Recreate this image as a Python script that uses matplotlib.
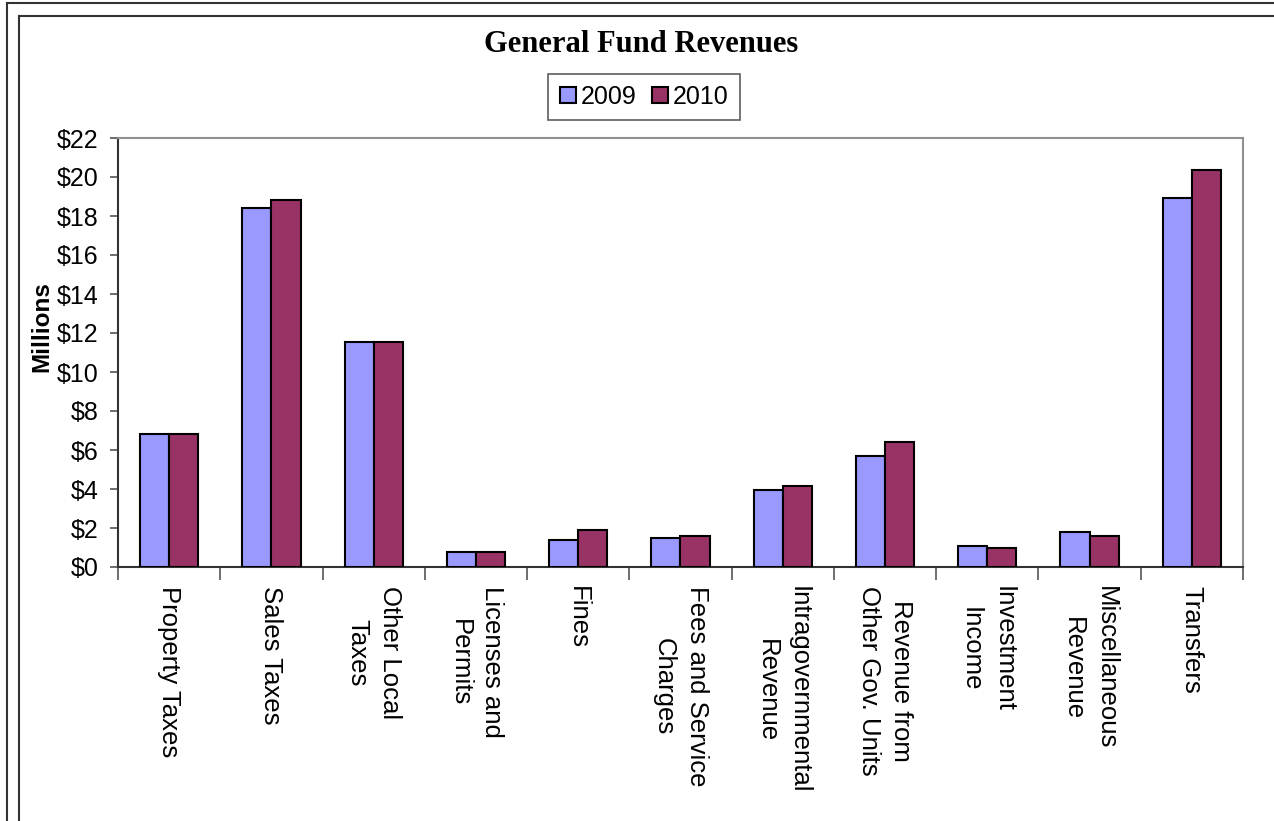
import numpy as np
import matplotlib
matplotlib.use('Agg')
import matplotlib.pyplot as plt
from matplotlib.lines import Line2D
from matplotlib.ticker import FuncFormatter

# chart data (millions of dollars)
categories = ['Property Taxes', 'Sales Taxes', 'Other Local\nTaxes', 'Licenses and\nPermits', 'Fines',
              'Fees and Service\nCharges', 'Intragovernmental\nRevenue', 'Revenue from\nOther Gov. Units',
              'Investment\nIncome', 'Miscellaneous\nRevenue', 'Transfers']
rev_2009 = [6.82, 18.41, 11.55, 0.78, 1.40, 1.50, 3.96, 5.71, 1.09, 1.81, 18.92]
rev_2010 = [6.82, 18.82, 11.55, 0.78, 1.91, 1.61, 4.17, 6.43, 0.99, 1.61, 20.36]
series_names = ['2009', '2010']
y_ticks = list(range(0, 23, 2))

plt.rcParams['font.family'] = ['Liberation Sans', 'DejaVu Sans']

W, H = 1274, 821
fig = plt.figure(figsize=(W / 100, H / 100), dpi=100)
ax = fig.add_axes([118 / W, 1 - 567 / H, (1243 - 118) / W, (567 - 138) / H])

x = np.arange(len(categories))
bw = 0.285
ax.bar(x - bw / 2, rev_2009, bw, color='#9999FF', edgecolor='black', linewidth=1.5, label=series_names[0], zorder=3)
ax.bar(x + bw / 2, rev_2010, bw, color='#993366', edgecolor='black', linewidth=1.5, label=series_names[1], zorder=3)

ax.set_xlim(-0.5, len(categories) - 0.5)
ax.set_ylim(0, 22)
ax.set_yticks(y_ticks)
ax.yaxis.set_major_formatter(FuncFormatter(lambda v, p: '$%d' % v))
ax.tick_params(axis='y', direction='out', length=6, width=1.2, color='#555555', labelsize=18, pad=8)

# category ticks sit between the groups
ax.set_xticks(np.arange(len(categories) + 1) - 0.5)
ax.set_xticklabels([])
ax.set_xticks(x, minor=True)
ax.set_xticklabels(categories, minor=True, rotation=270, ha='center', va='top',
                   fontsize=18.5, linespacing=1.45, multialignment='center')
ax.tick_params(axis='x', which='major', direction='out', length=9, width=1.2, color='#555555')
ax.tick_params(axis='x', which='minor', length=0, pad=14)

for side in ['left', 'bottom']:
    ax.spines[side].set_color('#333333')
    ax.spines[side].set_linewidth(1.5)
for side in ['top', 'right']:
    ax.spines[side].set_color('#909090')
    ax.spines[side].set_linewidth(1.5)

fig.text(42 / W, 1 - 327 / H, 'Millions', rotation=90, ha='center', va='center',
         fontsize=17.5, fontweight='bold')

fig.text(641 / W, 1 - 44 / H, 'General Fund Revenues', ha='center', va='center',
         fontsize=22, fontweight='bold', family=['Liberation Serif', 'DejaVu Serif'])

handles = [Line2D([], [], marker='s', linestyle='none', markersize=12, markerfacecolor=c,
                  markeredgecolor='black', markeredgewidth=1.5) for c in ['#9999FF', '#993366']]
leg = fig.legend(handles, series_names, loc='center', bbox_to_anchor=(644 / W, 1 - 97 / H),
                 ncol=2, fontsize=18, frameon=True, fancybox=False, handlelength=0.7,
                 handletextpad=0.15, columnspacing=0.6, borderpad=0.45)
leg.get_frame().set_edgecolor('#333333')
leg.get_frame().set_linewidth(1.2)

# outer chart frames
frame = dict(color='#333333', linewidth=1.5, transform=fig.transFigure)
fig.add_artist(Line2D([7 / W, 7 / W], [0, 1 - 3 / H], **frame))
fig.add_artist(Line2D([7 / W, 1], [1 - 3 / H, 1 - 3 / H], **frame))
fig.add_artist(Line2D([19 / W, 19 / W], [0, 1 - 16 / H], **frame))
fig.add_artist(Line2D([19 / W, 1], [1 - 16 / H, 1 - 16 / H], **frame))

fig.savefig('out.png', dpi=100)
